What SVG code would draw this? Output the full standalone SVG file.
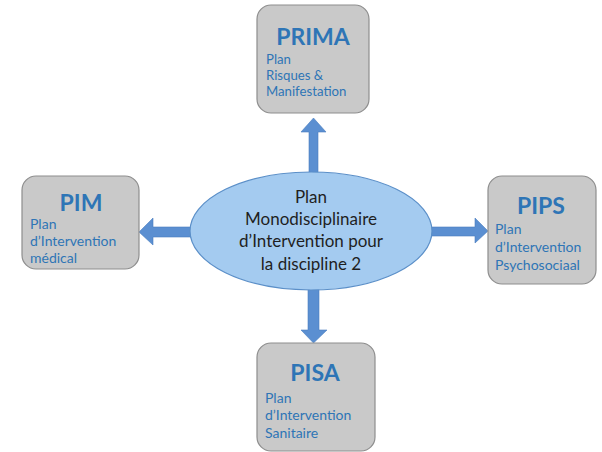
<svg xmlns="http://www.w3.org/2000/svg" width="602" height="452" viewBox="0 0 602 452">
<style>
.box{fill:#C9C9C9;stroke:#8E8E8E;stroke-width:1.2}
.ttl{font-family:Lato,"Open Sans",sans-serif;font-weight:bold;font-size:23px;fill:#2E75B6;text-anchor:middle}
.sub{font-family:Lato,"Open Sans",sans-serif;font-size:14px;fill:#2E75B6}
.sub2{font-family:Lato,"Open Sans",sans-serif;font-size:13.2px;fill:#2E75B6}
.ctr{font-family:Lato,"Open Sans",sans-serif;font-size:17px;fill:#1F1F1F;text-anchor:middle}
.arr{fill:#5B8FD1;stroke:#4A7DBF;stroke-width:0.6}
</style>
<rect width="602" height="452" fill="#FFFFFF"/>
<g id="connectors">
<path class="arr" d="M309,173 L309,132 L301,132 L313.5,118 L326,132 L318,132 L318,173 Z"/>
<path class="arr" d="M192,227 L153,227 L153,218 L139,232 L153,245 L153,237 L192,237 Z"/>
<path class="arr" d="M430,227 L475,227 L475,218 L488,231 L475,243 L475,236 L430,236 Z"/>
<path class="arr" d="M308,289 L308,330 L301,330 L313.5,343 L327,330 L319,330 L319,289 Z"/>
</g>
<g id="center">
<ellipse cx="311" cy="231" rx="121" ry="59" fill="#A4CBF0" stroke="#5B8FC8" stroke-width="1.2"/>
<text class="ctr" x="311" y="203">Plan</text>
<text class="ctr" x="311" y="225">Monodisciplinaire</text>
<text class="ctr" x="311" y="247">d’Intervention pour</text>
<text class="ctr" x="311" y="270">la discipline 2</text>
</g>
<g id="prima">
<rect class="box" x="257" y="5" width="112" height="108" rx="14"/>
<text class="ttl" x="313" y="45">PRIMA</text>
<text class="sub2" x="266" y="64">Plan</text>
<text class="sub2" x="266" y="80">Risques &amp;</text>
<text class="sub2" x="266" y="96">Manifestation</text>
</g>
<g id="pim">
<rect class="box" x="22" y="176" width="117" height="93" rx="14"/>
<text class="ttl" x="81" y="211">PIM</text>
<text class="sub" x="30" y="229">Plan</text>
<text class="sub" x="30" y="246">d’Intervention</text>
<text class="sub" x="30" y="263">médical</text>
</g>
<g id="pips">
<rect class="box" x="488" y="176" width="108" height="108" rx="14"/>
<text class="ttl" x="541" y="214">PIPS</text>
<text class="sub" x="495" y="234">Plan</text>
<text class="sub" x="495" y="252">d’Intervention</text>
<text class="sub" x="495" y="270">Psychosociaal</text>
</g>
<g id="pisa">
<rect class="box" x="257" y="343" width="118" height="108" rx="14"/>
<text class="ttl" x="315" y="381">PISA</text>
<text class="sub" x="265" y="403">Plan</text>
<text class="sub" x="265" y="420">d’Intervention</text>
<text class="sub" x="265" y="438">Sanitaire</text>
</g>
</svg>
